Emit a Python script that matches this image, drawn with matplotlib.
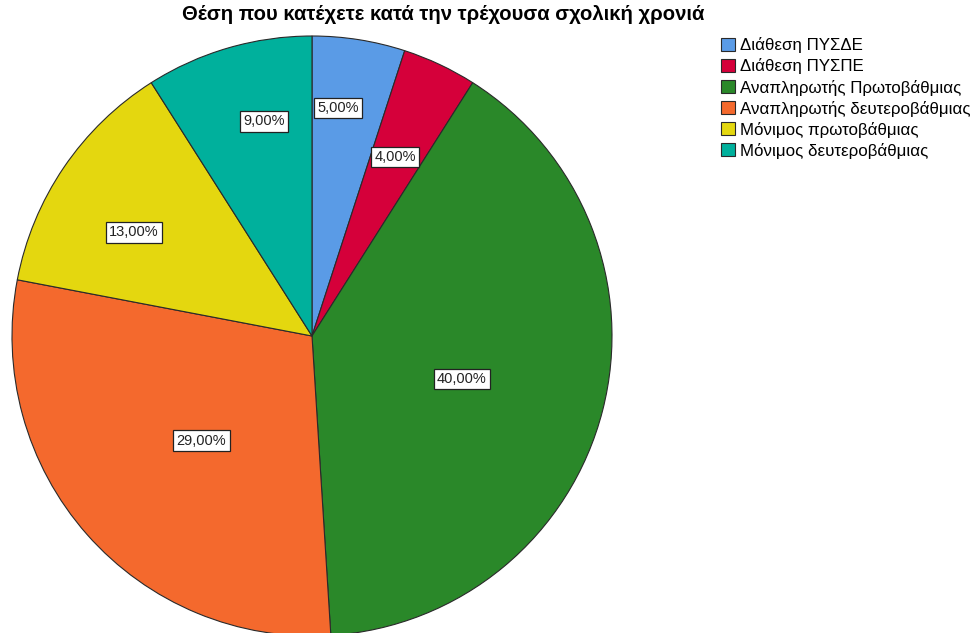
import numpy as np
import matplotlib
matplotlib.use("Agg")
import matplotlib.pyplot as plt
from matplotlib.patches import Patch

plt.rcParams['font.family'] = ['Liberation Sans', 'DejaVu Sans']

categories = ['Διάθεση ΠΥΣΔΕ', 'Διάθεση ΠΥΣΠΕ', 'Αναπληρωτής Πρωτοβάθμιας',
              'Αναπληρωτής δευτεροβάθμιας', 'Μόνιμος πρωτοβάθμιας',
              'Μόνιμος δευτεροβάθμιας']
percents = [5.0, 4.0, 40.0, 29.0, 13.0, 9.0]
colors = ['#5a9be6', '#d5003a', '#2a8829', '#f4692d', '#e4d70f', '#00b09c']
# label placement: radius as a fraction of the pie, angular nudge in degrees
label_r = [0.765, 0.658, 0.52, 0.507, 0.686, 0.733]
label_shift = [2.5, 0.3, -1.6, 2.0, 4.0, -3.5]

W, H = 972, 633
fig = plt.figure(figsize=(W / 100, H / 100), dpi=100)
cx, cy, R = 312, 336, 300
ax = fig.add_axes([(cx - R) / W, (H - cy - R) / H, 2 * R / W, 2 * R / H])

wedges, _ = ax.pie(percents, colors=colors, startangle=90, counterclock=False,
                   radius=1, wedgeprops=dict(edgecolor='#2a2a2a', linewidth=0.8))
for w in wedges:
    w.set_clip_on(False)
ax.set_xlim(-1, 1)
ax.set_ylim(-1, 1)
ax.axis('off')

ang = 90.0
for p, r, s in zip(percents, label_r, label_shift):
    mid = np.deg2rad(ang - p * 3.6 / 2 + s)
    ang -= p * 3.6
    txt = f"{p:.2f}%".replace('.', ',')
    ax.text(r * np.cos(mid), r * np.sin(mid), txt, ha='center', va='center',
            fontsize=10.5, color='#222222',
            bbox=dict(boxstyle='square,pad=0.22', fc='white', ec='#222222', lw=0.9))

fig.text(443 / W, 1 - 15 / H, 'Θέση που κατέχετε κατά την τρέχουσα σχολική χρονιά',
         ha='center', va='center', fontsize=14.6, fontweight='bold')

handles = [Patch(facecolor=c, edgecolor='#2a2a2a', linewidth=0.8) for c in colors]
fig.legend(handles, categories, loc='upper left', bbox_to_anchor=(718 / W, 1 - 34 / H),
           frameon=False, fontsize=12.2, handlelength=0.8, handleheight=0.8,
           handletextpad=0.3, labelspacing=0.3, borderaxespad=0, borderpad=0.2)

fig.savefig('out.png', dpi=100)
